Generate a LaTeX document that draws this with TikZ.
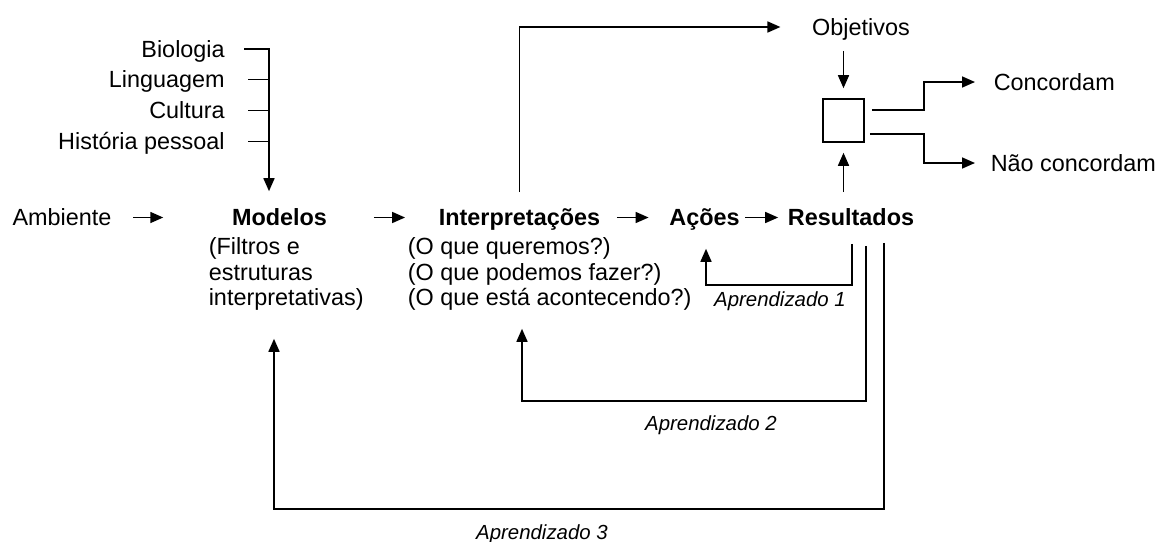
\documentclass[tikz,border=0pt]{standalone}
\usepackage{fontspec}
\setmainfont{Liberation Sans}
\usepackage{tikz}
\usetikzlibrary{arrows.meta,calc,positioning}

\tikzset{
  arr/.style={-{Triangle[length=6.5pt,width=5.5pt]}},
  txt/.style={inner sep=0.75pt, text height=8.4pt, text depth=0pt},
  hd/.style={txt, font=\fontsize{11.7}{12.75}\selectfont\bfseries},
  sub/.style={inner sep=0.75pt, align=left, anchor=north west},
  lbl/.style={inner sep=0.75pt, text height=7.3pt, text depth=0pt, font=\fontsize{10.2}{12}\selectfont\itshape},
}

\begin{document}
\begin{tikzpicture}[x=0.5pt,y=0.5pt,yscale=-1,xscale=1,line width=0.8pt,font=\fontsize{11.7}{12.75}\selectfont]
\useasboundingbox (0,0) rectangle (1161,541);

% Text Node
\node[txt, anchor=east] (bio) at (227,49) {Biologia};
% Text Node
\node[txt, anchor=east] (lin) at (227,79.5) {Linguagem};
% Text Node
\node[txt, anchor=east] (cul) at (227,110.5) {Cultura};
% Text Node
\node[txt, anchor=east] (his) at (227,141.5) {História pessoal};

% main row
\node[txt] (amb) at (62,217.5) {Ambiente};
\node[hd] (mod) at (279.5,217.5) {Modelos};
\node[hd] (int) at (519.5,217.5) {Interpretações};
\node[hd] (aco) at (704.5,217.5) {Ações};
\node[hd] (res) at (851,217.5) {Resultados};

% Text Node
\node[sub] (modsub) at (206.5,235.5) {(Filtros e\\estruturas\\interpretativas)};
% Text Node
\node[sub] (intsub) at (405.5,235.5) {(O que queremos?)\\(O que podemos fazer?)\\(O que está acontecendo?)};

% Text Node
\node[txt] (obj) at (861,27) {Objetivos};
%Square
\node[draw, minimum width=20.5pt, minimum height=21.5pt, inner sep=0pt] (box) at (843.5,120.5) {};
% Text Node
\node[txt, anchor=west] (conc) at (991.5,82) {Concordam};
% Text Node
\node[txt, anchor=west] (nao) at (988.5,163) {Não concordam};

%Straight Lines
\coordinate (trunk) at ($(mod.north)+(-10.5,-15.6)$);
\draw[arr] ($(bio.east)+(17,0)$) -| (trunk);
\draw ($(lin.east)+(21,0)$) -- (lin.east -| trunk);
\draw ($(cul.east)+(21,0)$) -- (cul.east -| trunk);
\draw ($(his.east)+(21,0)$) -- (his.east -| trunk);

%Straight Lines
\draw[arr, shorten <=9.75pt, shorten >=33.25pt] (amb) -- (mod);
\draw[arr, shorten <=22.25pt, shorten >=15.75pt] (mod) -- (int);
\draw[arr, shorten <=7.25pt, shorten >=9.25pt] (int) -- (aco);
\draw[arr, shorten <=1.75pt, shorten >=3.75pt] (aco) -- (res);

%Straight Lines
\draw[arr, shorten <=7.3pt, shorten >=14.75pt] (int.north) |- (obj.west);
\draw[arr, shorten <=6.55pt, shorten >=5pt] (obj.south -| box.north) -- (box.north);
\draw[arr, shorten <=7.3pt, shorten >=5pt] (res.north -| box.south) -- (box.south);
\draw[arr, shorten >=8.25pt] ($(box.east)+(7,-10.5)$) -- ++(52,0) |- (conc.west);
\draw[arr, shorten >=6.75pt] ($(box.east)+(5,13.5)$) -- ++(54,0) |- (nao.west);

%Feedback loops
\coordinate (low1) at (780,285);
\coordinate (low2) at (711,401);
\coordinate (low3) at (542,509);
\draw[arr, shorten <=7.8pt] ($(res.south)+(1,0)$) |- (low1) -| ($(aco.south)+(1.5,20.6)$);
\draw[arr, shorten <=8.8pt] ($(res.south)+(15,0)$) |- (low2) -| ($(int.south)+(2.5,100.6)$);
\draw[arr, shorten <=7.3pt] ($(res.south)+(33,0)$) |- (low3) -| ($(mod.south)+(-5.5,110.6)$);

% Text Node
\node[lbl, below=2.1pt of low1] (apr1) {Aprendizado 1};
% Text Node
\node[lbl, below=6.1pt of low2] (apr2) {Aprendizado 2};
% Text Node
\node[lbl, below=6.6pt of low3] (apr3) {Aprendizado 3};
\end{tikzpicture}
\end{document}
